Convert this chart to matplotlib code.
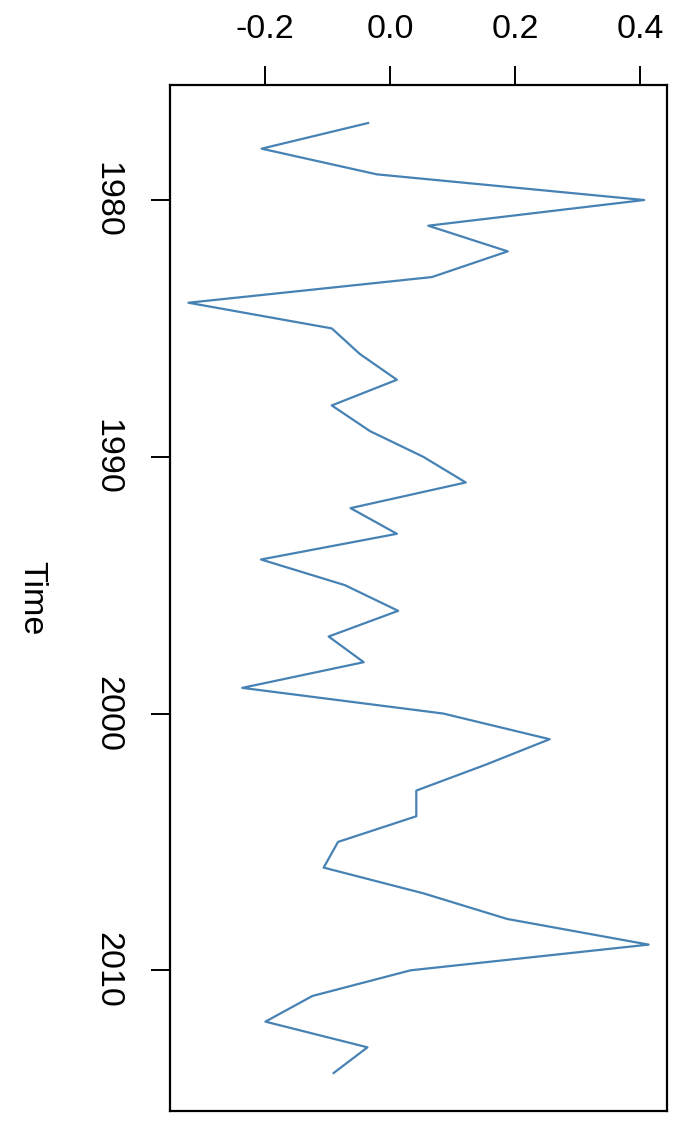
import numpy as np
import matplotlib
matplotlib.use('Agg')
import matplotlib.pyplot as plt

plt.rcParams['font.family'] = ['Liberation Sans', 'DejaVu Sans']

years = np.arange(1977, 2015)
values = [-0.035, -0.205, -0.021, 0.406, 0.061, 0.188, 0.067, -0.322, -0.093, -0.048,
          0.011, -0.093, -0.032, 0.053, 0.121, -0.063, 0.011, -0.206, -0.072, 0.013,
          -0.098, -0.042, -0.236, 0.085, 0.255, 0.152, 0.042, 0.042, -0.083, -0.106,
          0.053, 0.187, 0.413, 0.033, -0.124, -0.199, -0.036, -0.090]
xticks = [-0.2, 0.0, 0.2, 0.4]
yticks = [1980, 1990, 2000, 2010]

W, H = 692, 1130
fig = plt.figure(figsize=(W/100, H/100), dpi=100)
ax = fig.add_axes([170/W, 1 - 1111/H, (667-170)/W, (1111-85)/H])

ax.plot(values, years, color='#4682B4', lw=1.6)

# R style padding (4%)
vr = max(values) - min(values)
ax.set_xlim(min(values) - 0.04*vr, max(values) + 0.04*vr)
yr = years[-1] - years[0]
ax.set_ylim(years[-1] + 0.04*yr, years[0] - 0.04*yr)

ax.xaxis.tick_top()
ax.set_xticks(xticks)
ax.set_xticklabels(['%.1f' % t for t in xticks])
ax.set_yticks(yticks)
ax.set_yticklabels([str(t) for t in yticks], rotation=-90, va='center')
ax.tick_params(axis='both', length=14, width=1.4, labelsize=24.5, direction='out')
ax.tick_params(axis='x', pad=15)
ax.tick_params(axis='y', pad=20)
for s in ax.spines.values():
    s.set_linewidth(1.6)

fig.text(32/W, 1 - 598/H, 'Time', rotation=-90, ha='center', va='center', fontsize=24.5)

fig.savefig('out.png', dpi=100)
